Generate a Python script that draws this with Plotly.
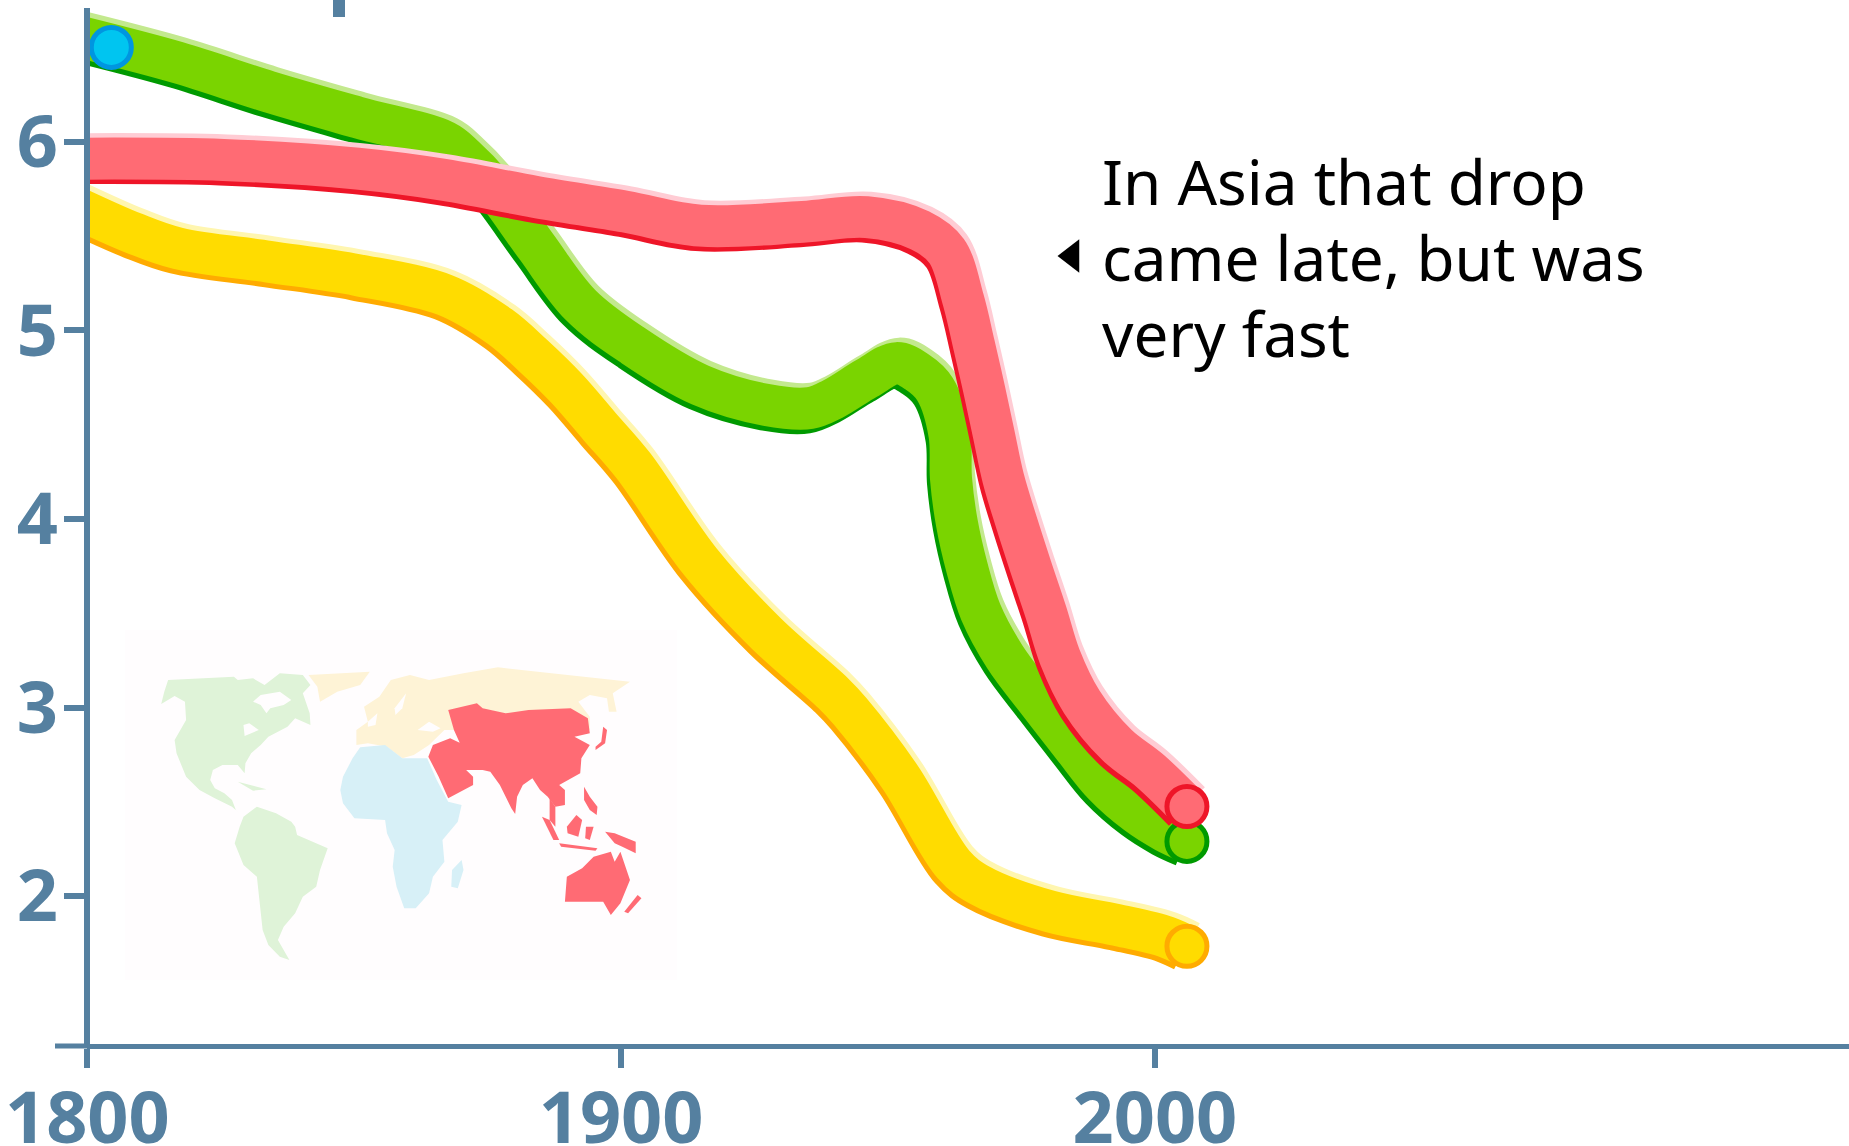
import numpy as np
import plotly.graph_objects as go

W, H = 1849, 1146

tick_years = [1800, 1900, 2000]
tick_children = [2, 3, 4, 5, 6]

green_years = [1798,1817,1834,1850.6,1867,1870.6,1875.7,1884,1892.4,1902.3,1914.8,1927.3,1935.4,1939.7,1946,1951.6,1955.4,1958.8,1961.5,1961.8,1962.9,1964.8,1967.4,1971.9,1978.2,1984.7,1990.4,1996.6,2001.9,2006]
green_vals = [6.56,6.419,6.265,6.129,6.0,5.92,5.77,5.448,5.134,4.918,4.71,4.604,4.588,4.636,4.745,4.826,4.78,4.688,4.451,4.214,3.978,3.741,3.504,3.268,3.03,2.794,2.593,2.439,2.344,2.29]

red_years = [1798,1825.5,1850.6,1867,1884,1900.8,1914.8,1934,1946,1956,1961,1964.1,1966.1,1968,1969.8,1971.6,1974.1,1976.8,1979.6,1982.2,1986.3,1992.9,1999.1,2006]
red_vals = [5.91,5.903,5.857,5.797,5.707,5.629,5.555,5.575,5.6,5.53,5.42,5.161,4.924,4.688,4.451,4.214,3.978,3.741,3.504,3.268,3.03,2.801,2.664,2.475]

yellow_years = [1798,1808.8,1817,1834,1850.6,1867,1877.3,1883.4,1889.8,1896,1902.3,1914.8,1927.3,1939.7,1942.9,1952.3,1962.3,1967.3,1980.4,1992.9,2002.2,2006]
yellow_vals = [5.65,5.514,5.434,5.364,5.293,5.187,5.019,4.869,4.692,4.489,4.282,3.775,3.39,3.077,2.98,2.63,2.167,2.056,1.918,1.847,1.783,1.734]

start_year, start_val = 1804.5, 6.5

note_lines = ["In Asia that drop", "came late, but was", "very fast"]

# world-map outlines, in the map's own units
land_green = [
 ([160,168,178,250,350,360,400,430,470,530,550,530,548,550,510,490,440,420,395,380,378,360,320,295,288,300,325,345,355,370,345,300,260,225,200,195,225,222,195],
  [222,185,150,145,140,150,145,165,130,135,165,190,250,285,265,290,320,345,370,400,430,405,405,420,450,475,490,510,540,555,530,505,480,440,370,330,270,215,198]),
 ([375,410,460,500,510,515,595,575,565,530,510,480,465,495,470,440,425,415,410,375,352,365],
  [560,530,550,575,590,615,655,720,770,800,850,890,930,990,980,945,900,790,740,705,640,590]),
 ([360,435,400],[455,478,482]),
]
land_cream = [
 ([545,705,680,620,575,568],[135,125,165,185,215,170]),
 ([670,670,700,690,730,760,810,860,950,1040,1180,1385,1340,1350,1330,1325,1280,1250,1280,1280,900,860,820,790,750,700],
  [345,300,275,230,200,150,135,150,130,112,130,155,190,245,245,205,195,215,260,300,300,345,375,385,350,340]),
]
land_blue = [
 ([635,660,680,745,790,855,880,910,945,935,895,900,870,860,825,795,775,765,770,750,745,665,635,628],
  [440,385,352,345,385,385,450,515,525,575,630,695,740,790,835,835,770,710,660,610,570,565,520,480]),
 ([945,950,935,918,920],[690,720,775,770,720]),
]
land_red = [
 ([858,870,915,940,925,910,985,1000,1060,1120,1230,1275,1280,1240,1280,1258,1255,1200,1215,1215,1190,1170,1150,1130,1105,1090,1085,1075,1045,1020,1000,945,930,975,975,910,885],
  [380,345,325,338,300,240,220,235,250,240,235,265,310,320,345,385,430,465,480,525,530,500,480,445,465,500,552,535,465,425,420,420,390,440,465,505,440]),
 ([1315,1325,1320,1295,1295,1310],[290,300,340,360,350,335]),
 ([1155,1175,1200,1185],[560,570,630,630]),
 ([1175,1190,1190,1175],[505,530,590,570]),
 ([1245,1260,1250,1222,1220],[555,570,620,610,590]),
 ([1265,1280,1300,1298,1280,1265],[470,500,530,555,540,510]),
 ([1270,1290,1280,1268],[590,590,630,625]),
 ([1200,1300,1295,1205],[640,655,662,650]),
 ([1320,1345,1400,1400,1365,1345],[605,610,635,670,650,640]),
 ([1220,1260,1290,1335,1345,1360,1385,1360,1335,1315,1215],[740,715,680,665,695,665,750,820,855,815,815]),
 ([1405,1415,1380,1370],[795,805,850,845]),
]
land_holes = [
 ([400,420,470,500,480,445,435,420],[215,195,185,210,225,235,250,225]),
 ([375,390,415,395,378],[285,280,300,310,318]),
 ([830,860,890,870],[300,275,295,305]),
 ([770,800,790,772],[235,190,235,255]),
 ([700,725,720,700],[275,250,285,290]),
]
map_bg_x = [65,1508,1508,65]
map_bg_y = [-21,-21,1050,1050]

BLUE = "#5580A0"
PX_YEAR = 5.338      # px per year
PX_UNIT = 188.6      # px per child
X0, Y6 = 87.3, 141.7
MAP_BG = "#FFFDFE"

def px_x(p): return 1800 + (p - X0) / PX_YEAR
def px_y(p): return 6 - (p - Y6) / PX_UNIT

fig = go.Figure()

MAP = dict(xaxis="x2", yaxis="y2", mode="lines", fill="toself", line=dict(width=0),
           hoverinfo="skip", showlegend=False)
fig.add_trace(go.Scatter(x=map_bg_x, y=map_bg_y, fillcolor=MAP_BG, **MAP))
for shapes_, col in ((land_green,"#DFF3D8"),(land_cream,"#FEF3D6"),(land_blue,"#D7F0F7"),(land_red,"#FF6B74"),(land_holes,MAP_BG)):
    for xs, ys in shapes_:
        fig.add_trace(go.Scatter(x=xs, y=ys, fillcolor=col, **MAP))

BAND = 42
DX, DY = 3 / PX_YEAR, 4.5 / PX_UNIT
def band(years, vals, light, main, dark):
    years = np.array(years); vals = np.array(vals)
    common = dict(mode="lines", hoverinfo="skip", showlegend=False)
    shape = dict(shape="spline", smoothing=1.0)
    fig.add_trace(go.Scatter(x=years+DX, y=vals+DY, line=dict(color=light, width=BAND, **shape), **common))
    fig.add_trace(go.Scatter(x=years-DX, y=vals-DY, line=dict(color=dark, width=BAND, **shape), **common))
    fig.add_trace(go.Scatter(x=years, y=vals, line=dict(color=main, width=BAND, **shape), **common))
    fig.add_trace(go.Scatter(x=[years[-1]], y=[vals[-1]], mode="markers", showlegend=False, hoverinfo="skip",
                             marker=dict(size=40, color=main, line=dict(color=dark, width=5))))

band(yellow_years, yellow_vals, "#FFF6B0", "#FFDC00", "#FFAB00")
band(green_years, green_vals, "#C3E98E", "#7AD400", "#009A00")
band(red_years, red_vals, "#FFCCD4", "#FF6B74", "#EE1528")

fig.add_trace(go.Scatter(x=[start_year], y=[start_val], mode="markers", showlegend=False, hoverinfo="skip",
                         marker=dict(size=40, color="#00C5F0", line=dict(color="#0096E0", width=5))))
fig.add_trace(go.Scatter(x=[px_x(1072)], y=[px_y(256)], mode="markers", showlegend=False, hoverinfo="skip",
                         marker=dict(size=29, symbol="triangle-left", color="black", line=dict(width=0))))

TICKFONT = dict(family="Open Sans", size=72, color=BLUE, weight="bold")
notes = [dict(text=t, xref="paper", yref="paper", x=1100/W, y=1-b/H,
              xanchor="left", yanchor="middle", align="left", showarrow=False,
              font=dict(family="Noto Sans", size=62, color="black"))
         for t, b in zip(note_lines, (180.5, 256.5, 333.5))]
fig.update_layout(
    width=W, height=H, autosize=False,
    margin=dict(l=0, r=0, t=0, b=0),
    paper_bgcolor="white", plot_bgcolor="rgba(0,0,0,0)",
    showlegend=False,
    xaxis=dict(domain=[X0/W, 1], range=[1800, px_x(W)], anchor="free", position=1-1046/H, automargin=False,
               tickmode="array", tickvals=tick_years, ticks="outside", ticklen=19, tickwidth=6,
               tickcolor=BLUE, showline=True, linecolor=BLUE, linewidth=5, showgrid=False,
               zeroline=False, tickfont=TICKFONT, ticklabelstandoff=-11),
    yaxis=dict(domain=[1-1046/H, 1-8/H], range=[px_y(1046), px_y(8)], anchor="free", position=X0/W, automargin=False,
               tickmode="array", tickvals=tick_children, ticks="outside", ticklen=20, tickwidth=6,
               tickcolor=BLUE, showline=True, linecolor=BLUE, linewidth=6, showgrid=False,
               zeroline=False, tickfont=TICKFONT, ticklabelstandoff=-8),
    xaxis2=dict(domain=[100/W, 700/W], range=[0,1568], visible=False, anchor="y2", automargin=False),
    yaxis2=dict(domain=[1-980/H, 1-630/H], range=[1050,0], visible=False, anchor="x2", automargin=False),
    shapes=[dict(type="rect", xref="paper", yref="paper", x0=333/W, x1=345/W, y0=1-17/H, y1=1,
                 fillcolor=BLUE, line=dict(width=0)),
            dict(type="rect", xref="paper", yref="paper", x0=55/W, x1=X0/W, y0=1-1048.5/H, y1=1-1043.5/H,
                 fillcolor=BLUE, line=dict(width=0))],
    annotations=notes,
)
fig.write_html("out.html", config={"displayModeBar": False},
               post_script="document.body.style.margin='0';document.body.style.overflow='hidden';")
